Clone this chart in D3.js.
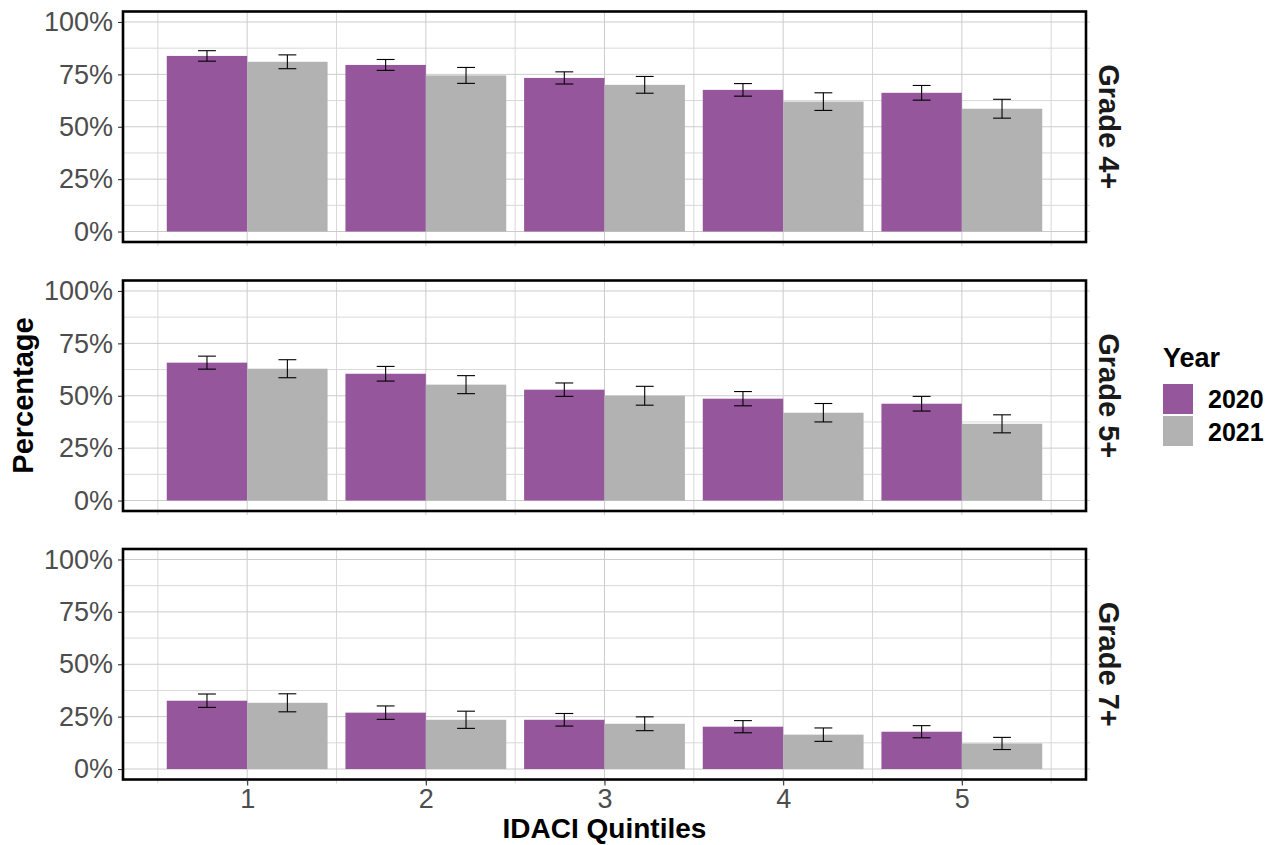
<!DOCTYPE html>
<html>
<head>
<meta charset="utf-8">
<script src="https://cdn.jsdelivr.net/npm/d3@7"></script>
<style>
  body { margin: 0; background: #fff; }
  text { font-family: "Liberation Sans", Arial, sans-serif; }
</style>
</head>
<body>
<svg width="1283" height="845"></svg>
<script>
// data
const quintiles = [1, 2, 3, 4, 5]
const years = ['2020', '2021']
const grades = ['Grade 4+', 'Grade 5+', 'Grade 7+']
const yTicks = [0, 0.25, 0.5, 0.75, 1]

const grade4_2020 = [0.838, 0.795, 0.733, 0.676, 0.662]
const grade4_2021 = [0.810, 0.745, 0.700, 0.620, 0.586]
const grade4_err2020 = [0.025, 0.026, 0.029, 0.030, 0.035]
const grade4_err2021 = [0.033, 0.038, 0.040, 0.042, 0.045]

const grade5_2020 = [0.658, 0.605, 0.529, 0.486, 0.462]
const grade5_2021 = [0.629, 0.553, 0.500, 0.419, 0.366]
const grade5_err2020 = [0.031, 0.035, 0.032, 0.034, 0.035]
const grade5_err2021 = [0.043, 0.043, 0.045, 0.044, 0.043]

const grade7_2020 = [0.326, 0.269, 0.235, 0.202, 0.178]
const grade7_2021 = [0.316, 0.235, 0.216, 0.164, 0.122]
const grade7_err2020 = [0.032, 0.032, 0.030, 0.029, 0.029]
const grade7_err2021 = [0.043, 0.041, 0.033, 0.032, 0.029]

const values = [
  [grade4_2020, grade4_2021],
  [grade5_2020, grade5_2021],
  [grade7_2020, grade7_2021]
]
const errors = [
  [grade4_err2020, grade4_err2021],
  [grade5_err2020, grade5_err2021],
  [grade7_err2020, grade7_err2021]
]

const colors = ['#95569b', '#b2b2b2']

function main() {
  let svg = d3.select('svg')
  let left = 123, right = 1086,
    panelH = 230.5, panelTops = [11.5, 280.5, 549]

  let barW = 0.9
  let xScale = d3.scaleLinear()
    .domain([0.305, 5.695])
    .range([left, right])

  let color = d3.scaleOrdinal().domain(years).range(colors)

  grades.forEach(function (grade, gi) {
    let top = panelTops[gi]
    let yScale = d3.scaleLinear().domain([-0.05, 1.05]).range([top + panelH, top])
    let g = svg.append('g')

    // minor grid
    let minorY = d3.range(0.125, 1, 0.25)
    g.selectAll('.minor-y').data(minorY).enter().append('line')
      .attr('x1', left).attr('x2', right + 4)
      .attr('y1', d => yScale(d)).attr('y2', d => yScale(d))
      .attr('stroke', '#d9d9d9').attr('stroke-width', 1)
    let minorX = d3.range(0.5, 6, 1)
    g.selectAll('.minor-x').data(minorX).enter().append('line')
      .attr('y1', top).attr('y2', top + panelH + 4)
      .attr('x1', d => xScale(d)).attr('x2', d => xScale(d))
      .attr('stroke', '#d9d9d9').attr('stroke-width', 1)

    // major grid
    g.selectAll('.major-y').data(yTicks).enter().append('line')
      .attr('x1', left).attr('x2', right + 4)
      .attr('y1', d => yScale(d)).attr('y2', d => yScale(d))
      .attr('stroke', '#cccccc').attr('stroke-width', 1)
    g.selectAll('.major-x').data(quintiles).enter().append('line')
      .attr('y1', top).attr('y2', top + panelH + 4)
      .attr('x1', d => xScale(d)).attr('x2', d => xScale(d))
      .attr('stroke', '#cccccc').attr('stroke-width', 1)

    // bars
    years.forEach(function (yr, yi) {
      let vals = values[gi][yi], errs = errors[gi][yi]
      let offset = yi === 0 ? -barW / 2 : 0
      g.selectAll('.bar' + yi)
        .data(quintiles)
        .enter()
        .append('rect')
        .attr('x', (d, i) => xScale(d + offset))
        .attr('y', (d, i) => yScale(vals[i]))
        .attr('width', xScale(barW / 2) - xScale(0))
        .attr('height', (d, i) => yScale(0) - yScale(vals[i]))
        .attr('fill', color(yr))

      // error bars
      let cx = d => xScale(d + offset + barW / 4)
      let cap = xScale(0.05) - xScale(0)
      let eb = g.selectAll('.err' + yi).data(quintiles).enter().append('g')
      eb.append('line')
        .attr('x1', cx).attr('x2', cx)
        .attr('y1', (d, i) => yScale(vals[i] + errs[i]))
        .attr('y2', (d, i) => yScale(vals[i] - errs[i]))
      eb.append('line')
        .attr('x1', d => cx(d) - cap).attr('x2', d => cx(d) + cap)
        .attr('y1', (d, i) => yScale(vals[i] + errs[i]))
        .attr('y2', (d, i) => yScale(vals[i] + errs[i]))
      eb.append('line')
        .attr('x1', d => cx(d) - cap).attr('x2', d => cx(d) + cap)
        .attr('y1', (d, i) => yScale(vals[i] - errs[i]))
        .attr('y2', (d, i) => yScale(vals[i] - errs[i]))
      eb.selectAll('line').attr('stroke', '#000').attr('stroke-width', 1.1)
    })

    // y axis
    let yAxis = g.append('g')
      .attr('transform', 'translate(' + left + ',0)')
      .call(d3.axisLeft(yScale).tickValues(yTicks).tickFormat(d3.format('.0%')).tickSize(5).tickPadding(5))
    yAxis.select('.domain').remove()
    yAxis.selectAll('.tick line').attr('stroke', '#333').attr('stroke-width', 1.1)
    yAxis.selectAll('.tick text')
      .attr('fill', '#4d4d4d')
      .style('font-size', '27px')

    // panel border
    g.append('rect')
      .attr('x', left).attr('y', top)
      .attr('width', right - left).attr('height', panelH)
      .attr('fill', 'none').attr('stroke', '#000').attr('stroke-width', 2.6)

    // strip label
    g.append('text')
      .attr('transform', 'translate(1099,' + (top + panelH / 2) + ') rotate(90)')
      .attr('text-anchor', 'middle')
      .attr('fill', '#1a1a1a')
      .style('font-size', '29px')
      .style('font-weight', 'bold')
      .text(grade)

    // x axis on bottom panel
    if (gi === grades.length - 1) {
      let xAxis = g.append('g')
        .attr('transform', 'translate(0,' + (top + panelH) + ')')
        .call(d3.axisBottom(xScale).tickValues(quintiles).tickFormat(d3.format('d')).tickSize(6).tickPadding(3))
      xAxis.select('.domain').remove()
      xAxis.selectAll('.tick line').attr('stroke', '#333').attr('stroke-width', 1.1)
      xAxis.selectAll('.tick text')
        .attr('fill', '#4d4d4d')
        .style('font-size', '27px')
    }
  })

  // axis titles
  svg.append('text')
    .attr('x', (left + right) / 2).attr('y', 838)
    .attr('text-anchor', 'middle')
    .style('font-size', '28px').style('font-weight', 'bold')
    .text('IDACI Quintiles')

  svg.append('text')
    .attr('transform', 'translate(33,' + (panelTops[0] + panelTops[2] + panelH) / 2 + ') rotate(-90)')
    .attr('text-anchor', 'middle')
    .style('font-size', '29px').style('font-weight', 'bold')
    .text('Percentage')

  // legend
  let legend = svg.append('g').attr('transform', 'translate(1163,0)')
  legend.append('text')
    .attr('x', 0).attr('y', 367)
    .style('font-size', '27px').style('font-weight', 'bold')
    .text('Year')
  legend.selectAll('.key').data(years).enter().append('rect')
    .attr('x', 0).attr('y', (d, i) => 384 + i * 32)
    .attr('width', 30).attr('height', 30)
    .attr('fill', d => color(d))
  legend.selectAll('.lab').data(years).enter().append('text')
    .attr('x', 45).attr('y', (d, i) => 408 + i * 33)
    .style('font-size', '25px').style('font-weight', 'bold')
    .text(d => d)
}

main()
</script>
</body>
</html>
